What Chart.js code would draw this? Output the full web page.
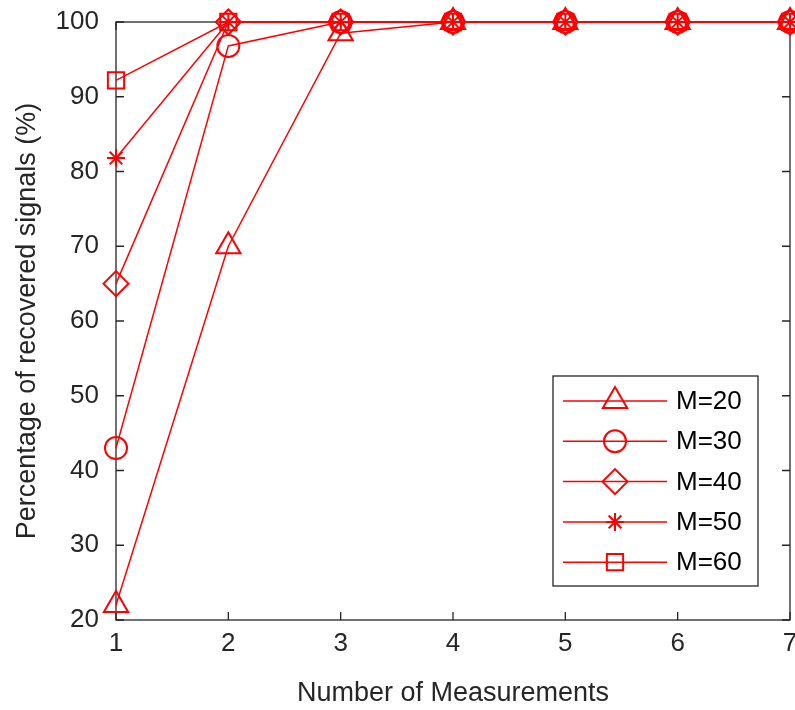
<!DOCTYPE html>
<html>
<head>
<meta charset="utf-8">
<script src="https://cdn.jsdelivr.net/npm/chart.js@4.4.1/dist/chart.umd.min.js"></script>
<style>
  body { margin: 0; background: #fff; }
  canvas { display: block; }
</style>
</head>
<body>
<canvas id="myChart" width="795" height="710"></canvas>
<script>
const measurements = ['1', '2', '3', '4', '5', '6', '7'];

const m20 = [22, 70, 98.5, 100, 100, 100, 100];
const m30 = [43, 96.8, 100, 100, 100, 100, 100];
const m40 = [65, 100, 100, 100, 100, 100, 100];
const m50 = [81.8, 100, 100, 100, 100, 100, 100];
const m60 = [92.2, 100, 100, 100, 100, 100, 100];

const seriesNames = ['M=20', 'M=30', 'M=40', 'M=50', 'M=60'];

const red = '#ff0000';
const ink = '#262626';
const fontFamily = '"Liberation Sans", Arial, Helvetica, sans-serif';

function makeSet(label, values, style, radius) {
    return {
        label: label,
        data: values,
        borderColor: red,
        borderWidth: 1.5,
        pointStyle: style,
        pointRadius: radius,
        pointHoverRadius: radius,
        pointBorderWidth: 2,
        pointBorderColor: red,
        pointBackgroundColor: 'rgba(0,0,0,0)',
        fill: false,
        tension: 0,
        clip: false
    };
}

const data = {
    labels: measurements,
    datasets: [
        makeSet(seriesNames[0], m20, 'triangle', 14),
        makeSet(seriesNames[1], m30, 'circle', 11),
        makeSet(seriesNames[2], m40, 'rectRot', 12.5),
        makeSet(seriesNames[3], m50, 'star', 9),
        makeSet(seriesNames[4], m60, 'rect', 11.5)
    ]
};

// axes box with inward ticks, like the original figure
const framePlugin = {
    id: 'frame',
    beforeDatasetsDraw(chart) {
        const ctx = chart.ctx;
        const a = chart.chartArea;
        const xs = chart.scales.x;
        const ys = chart.scales.y;
        const t = 8;
        ctx.save();
        ctx.strokeStyle = ink;
        ctx.lineWidth = 1.3;
        ctx.beginPath();
        xs.ticks.forEach(function(tk, i) {
            const px = xs.getPixelForTick(i);
            ctx.moveTo(px, a.bottom); ctx.lineTo(px, a.bottom - t);
            ctx.moveTo(px, a.top); ctx.lineTo(px, a.top + t);
        });
        ys.ticks.forEach(function(tk) {
            const py = ys.getPixelForValue(tk.value);
            ctx.moveTo(a.left, py); ctx.lineTo(a.left + t, py);
            ctx.moveTo(a.right, py); ctx.lineTo(a.right - t, py);
        });
        ctx.stroke();
        ctx.strokeRect(a.left, a.top, a.right - a.left, a.bottom - a.top);
        ctx.restore();
    }
};

// legend box inside the lower right corner
const boxLegend = {
    id: 'boxLegend',
    afterDraw(chart) {
        const ctx = chart.ctx;
        const a = chart.chartArea;
        const w = 205, h = 210;
        const left = a.right - 32 - w;
        const top = a.bottom - 34 - h;
        ctx.save();
        ctx.fillStyle = '#fff';
        ctx.fillRect(left, top, w, h);
        ctx.strokeStyle = ink;
        ctx.lineWidth = 1.3;
        ctx.strokeRect(left, top, w, h);
        chart.data.datasets.forEach(function(ds, i) {
            const y = top + 25 + i * 40.3;
            ctx.strokeStyle = red;
            ctx.lineWidth = 1.5;
            ctx.beginPath();
            ctx.moveTo(left + 10, y);
            ctx.lineTo(left + 114, y);
            ctx.stroke();
            ctx.lineWidth = 2;
            ctx.fillStyle = 'rgba(0,0,0,0)';
            Chart.helpers.drawPoint(ctx, {
                pointStyle: ds.pointStyle,
                radius: ds.pointRadius,
                rotation: 0,
                borderWidth: 2
            }, left + 62, y);
            ctx.fillStyle = '#000';
            ctx.font = '26px ' + fontFamily;
            ctx.textAlign = 'left';
            ctx.textBaseline = 'middle';
            ctx.fillText(ds.label, left + 123, y + 1);
        });
        ctx.restore();
    }
};

const config = {
    type: 'line',
    data: data,
    plugins: [framePlugin, boxLegend],
    options: {
        responsive: false,
        animation: false,
        layout: {
            autoPadding: false, // markers may spill over the frame
            padding: { top: 22, right: 5, left: 0, bottom: 0 }
        },
        plugins: {
            legend: { display: false },
            tooltip: { enabled: false }
        },
        scales: {
            x: {
                type: 'category',
                offset: false,
                grid: { display: false, drawTicks: false },
                border: { display: false },
                ticks: {
                    color: ink,
                    padding: 8,
                    maxRotation: 0,
                    font: { family: fontFamily, size: 26 }
                },
                title: {
                    display: true,
                    text: 'Number of Measurements',
                    color: ink,
                    padding: { top: 0, bottom: 0 },
                    font: { family: fontFamily, size: 27 }
                },
                afterFit: function(scale) {
                    scale.height = 90;
                    scale.paddingLeft = 0;
                    scale.paddingRight = 0;
                }
            },
            y: {
                min: 20,
                max: 100,
                grid: { display: false, drawTicks: false },
                border: { display: false },
                ticks: {
                    stepSize: 10,
                    color: ink,
                    padding: 17,
                    font: { family: fontFamily, size: 26 }
                },
                title: {
                    display: true,
                    text: 'Percentage of recovered signals (%)',
                    color: ink,
                    padding: { top: 11, bottom: 0 },
                    font: { family: fontFamily, size: 27 }
                },
                afterFit: function(scale) {
                    scale.width = 116;
                    scale.paddingTop = 0;
                    scale.paddingBottom = 0;
                }
            }
        }
    }
};

const myChart = new Chart(document.getElementById('myChart'), config);
</script>
</body>
</html>
